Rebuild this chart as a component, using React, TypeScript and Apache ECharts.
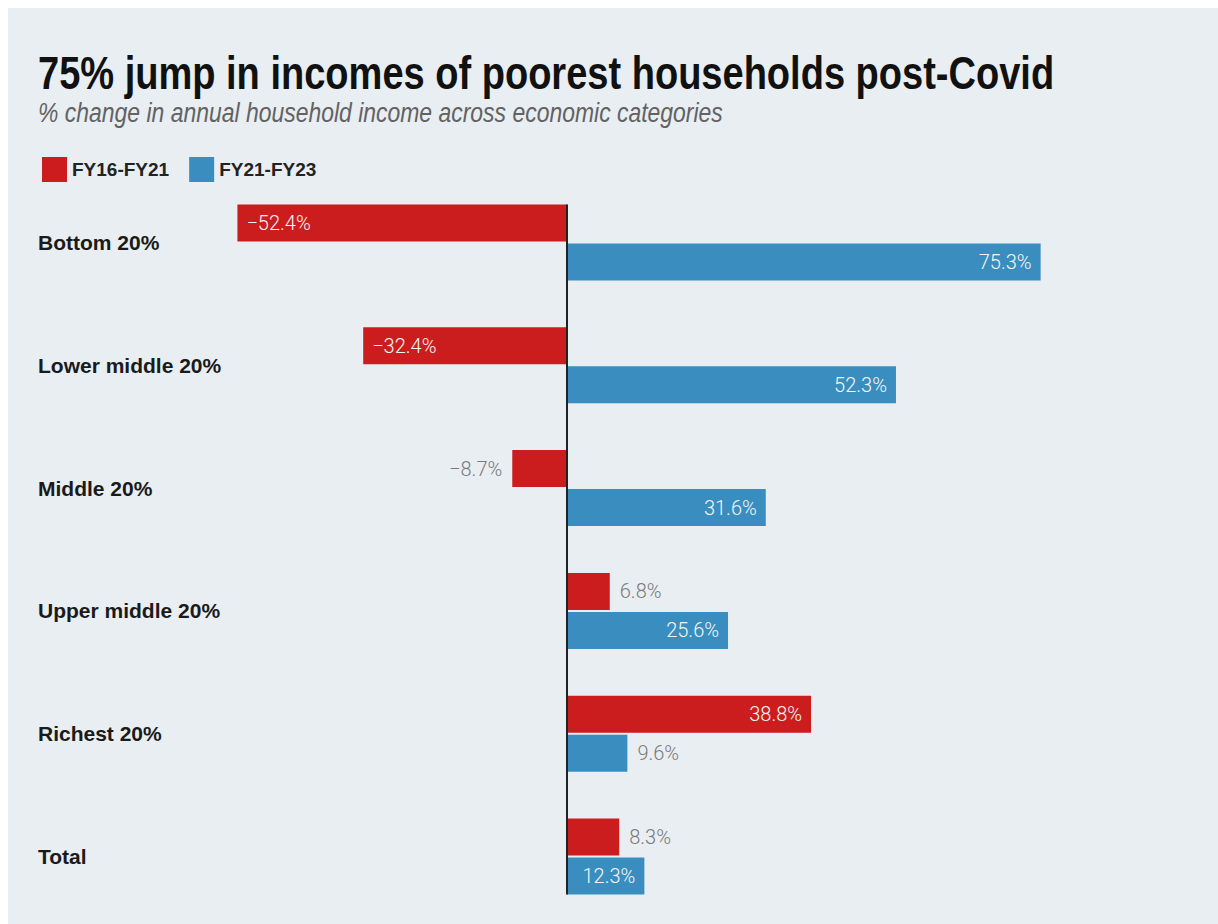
import React, { useEffect, useRef } from "react";
import * as echarts from "echarts";

const titleText = "75% jump in incomes of poorest households post-Covid";
const subtitleText = "% change in annual household income across economic categories";
const categories = ["Bottom 20%", "Lower middle 20%", "Middle 20%", "Upper middle 20%", "Richest 20%", "Total"];
const seriesNames = ["FY16-FY21", "FY21-FY23"];
const fy16to21 = [-52.4, -32.4, -8.7, 6.8, 38.8, 8.3];
const fy21to23 = [75.3, 52.3, 31.6, 25.6, 9.6, 12.3];

const RED = "#cc1d1e";
const BLUE = "#3a8dbf";
const BG = "#e9eef2";
const BAR_W = 37;
const BAR_GAP_PX = 2;

const fmt = (v: number) => (v < 0 ? "\u2212" + Math.abs(v).toFixed(1) : v.toFixed(1)) + "%";

function makeData(values: number[]) {
  return values.map((v) => {
    const inside = Math.abs(v) >= 10;
    return {
      value: v,
      label: {
        show: true,
        position: inside ? (v < 0 ? "insideLeft" : "insideRight") : v < 0 ? "left" : "right",
        distance: inside ? 9 : 10,
        color: inside ? "#f5f5f5" : "#7a7a7a",
      },
    };
  });
}

export default function App() {
  const ref = useRef<HTMLDivElement>(null);
  useEffect(() => {
    if (!ref.current) return;
    const chart = echarts.init(ref.current, null, { renderer: "svg" });
    const labelStyle = {
      fontFamily: "Roboto",
      fontWeight: 300,
      fontSize: 20,
      formatter: (p: any) => fmt(p.value),
    };
    chart.setOption({
      animation: false,
      backgroundColor: BG,
      legend: {
        left: 29,
        top: 144,
        icon: "rect",
        itemWidth: 25,
        itemHeight: 25,
        itemGap: 20,
        textStyle: { fontFamily: "Liberation Sans", fontWeight: "bold", fontSize: 19, color: "#222" },
        data: seriesNames,
      },
      grid: { left: 181.6, right: 84.9, top: 173.1, bottom: 6.1, containLabel: false },
      xAxis: {
        type: "value",
        min: -60,
        max: 90,
        show: false,
      },
      yAxis: {
        type: "category",
        inverse: true,
        data: categories,
        axisLine: { show: false, onZero: false },
        axisTick: { show: false },
        axisLabel: {
          align: "left",
          margin: 151.6,
          fontFamily: "Liberation Sans",
          fontWeight: "bold",
          fontSize: 21,
          color: "#1a1a1a",
        },
      },
      series: [
        {
          name: seriesNames[0],
          type: "bar",
          barWidth: BAR_W,
          barGap: (BAR_GAP_PX / BAR_W) * 100 + "%",
          itemStyle: { color: RED },
          label: labelStyle,
          data: makeData(fy16to21),
        },
        {
          name: seriesNames[1],
          type: "bar",
          barWidth: BAR_W,
          itemStyle: { color: BLUE },
          label: labelStyle,
          data: makeData(fy21to23),
        },
      ],
    });
    const x0 = chart.convertToPixel({ xAxisIndex: 0 }, 0) as number;
    const yFirst = chart.convertToPixel({ yAxisIndex: 0 }, categories[0]) as number;
    const yLast = chart.convertToPixel({ yAxisIndex: 0 }, categories[categories.length - 1]) as number;
    const half = BAR_W + BAR_GAP_PX / 2;
    chart.setOption({
      graphic: [
        {
          type: "text",
          x: 30,
          y: 65,
          scaleX: 0.827,
          style: {
            text: titleText,
            font: 'bold 46px "Liberation Sans", Arial, sans-serif',
            fill: "#111",
            verticalAlign: "middle",
          },
        },
        {
          type: "text",
          x: 30,
          y: 104,
          scaleX: 0.85,
          style: {
            text: subtitleText,
            font: 'italic 27px "Liberation Sans", Arial, sans-serif',
            fill: "#626262",
            verticalAlign: "middle",
          },
        },
        {
          type: "line",
          z: 100,
          shape: { x1: x0, y1: yFirst - half, x2: x0, y2: yLast + half },
          style: { stroke: "#222", lineWidth: 2 },
        },
      ],
    });
    return () => chart.dispose();
  }, []);
  return (
    <div
      ref={ref}
      style={{ position: "fixed", left: 8, top: 8, width: 1210, height: 916, background: BG }}
    />
  );
}
